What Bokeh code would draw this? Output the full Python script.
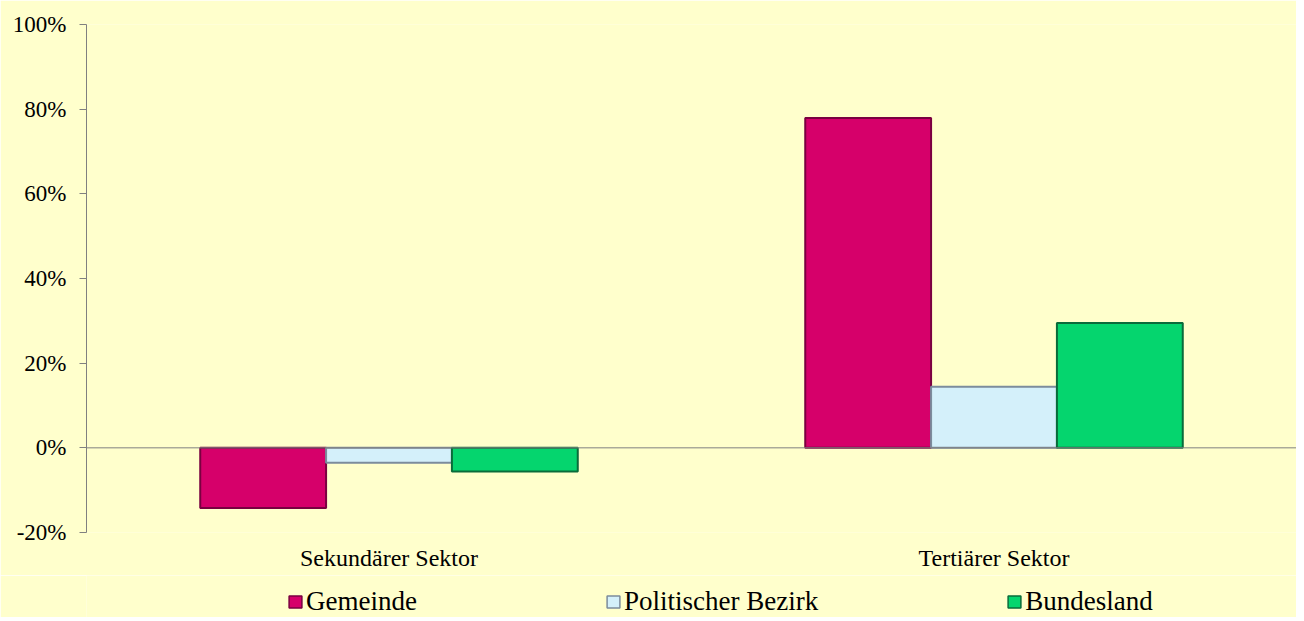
from bokeh.plotting import figure
from bokeh.layouts import column
from bokeh.models import FactorRange, Span, FixedTicker, PrintfTickFormatter, Legend, LegendItem, ColumnDataSource
from bokeh.transform import dodge
from bokeh.embed import file_html
from bokeh.resources import INLINE

categories = ["Sekundärer Sektor", "Tertiärer Sektor"]
series = ["Gemeinde", "Politischer Bezirk", "Bundesland"]
gemeinde = [-14.2, 77.9]
bezirk = [-3.5, 14.4]
bundesland = [-5.6, 29.5]
y_ticks = [-20, 0, 20, 40, 60, 80, 100]

fills = ["#D6006A", "#D4F0FA", "#05D56E"]
edges = ["#7A0040", "#7C8C9C", "#0A6B3A"]

BG = "#FFFFCC"
FONT = "Liberation Serif"

src = ColumnDataSource(dict(cat=categories, Gemeinde=gemeinde, Bezirk=bezirk, Bundesland=bundesland))

p = figure(width=1296, height=575, x_range=FactorRange(*categories, range_padding=0),
           y_range=(-20, 100), output_backend="svg", toolbar_location=None,
           background_fill_color=BG, border_fill_color=BG, outline_line_color=None,
           min_border_left=86, min_border_top=24, min_border_right=0, min_border_bottom=43)

bw = 0.208
offsets = [-bw, 0, bw]
cols = ["Gemeinde", "Bezirk", "Bundesland"]
for col, off, fc, ec in zip(cols, offsets, fills, edges):
    p.vbar(x=dodge("cat", off, range=p.x_range), top=col, bottom=0, width=bw,
           source=src, fill_color=fc, line_color=ec, line_width=2)

p.add_layout(Span(location=0, dimension="width", line_color="#808080", line_width=1))

p.xgrid.visible = False
p.ygrid.visible = False

p.yaxis.ticker = FixedTicker(ticks=y_ticks)
p.yaxis.formatter = PrintfTickFormatter(format="%d%%")
p.yaxis.axis_line_color = "#808080"
p.yaxis.major_tick_line_color = "#808080"
p.yaxis.major_tick_out = 7
p.yaxis.major_tick_in = 0
p.yaxis.minor_tick_line_color = None
p.yaxis.major_label_text_font = FONT
p.yaxis.major_label_text_font_size = "23px"
p.yaxis.major_label_text_color = "#000000"
p.yaxis.major_label_standoff = 13

p.xaxis.axis_line_color = None
p.xaxis.major_tick_line_color = None
p.xaxis.major_tick_out = 0
p.xaxis.minor_tick_line_color = None
p.xaxis.major_label_text_font = FONT
p.xaxis.major_label_text_font_size = "24px"
p.xaxis.major_label_text_color = "#000000"
p.xaxis.major_label_standoff = 12

# legend strip: hidden proxy renderers, only their legend entries are drawn
lg = figure(width=1296, height=42, x_range=FactorRange(*categories), y_range=(1000, 1001),
            output_backend="svg", toolbar_location=None, background_fill_color=BG,
            border_fill_color=BG, outline_line_color=None, min_border=0)
lg.axis.visible = False
lg.grid.visible = False
dummies = []
for col, fc, ec in zip(cols, fills, edges):
    r = lg.vbar(x="cat", top=col, bottom=0, width=0.2, source=src,
                fill_color=fc, line_color=ec, line_width=1.5)
    r.visible = False
    dummies.append(r)

legend = Legend(items=[LegendItem(label=s, renderers=[r]) for s, r in zip(series, dummies)],
                orientation="horizontal", location=(201, 0),
                background_fill_alpha=0, border_line_color=None,
                inactive_fill_alpha=0,
                label_text_font=FONT, label_text_font_size="27px", label_text_color="#000000",
                glyph_width=16, glyph_height=15, spacing=188, label_standoff=3,
                padding=0, margin=0)
lg.add_layout(legend, "center")

layout = column(p, lg, spacing=0)
open("out.html", "w").write(file_html(layout, INLINE))
